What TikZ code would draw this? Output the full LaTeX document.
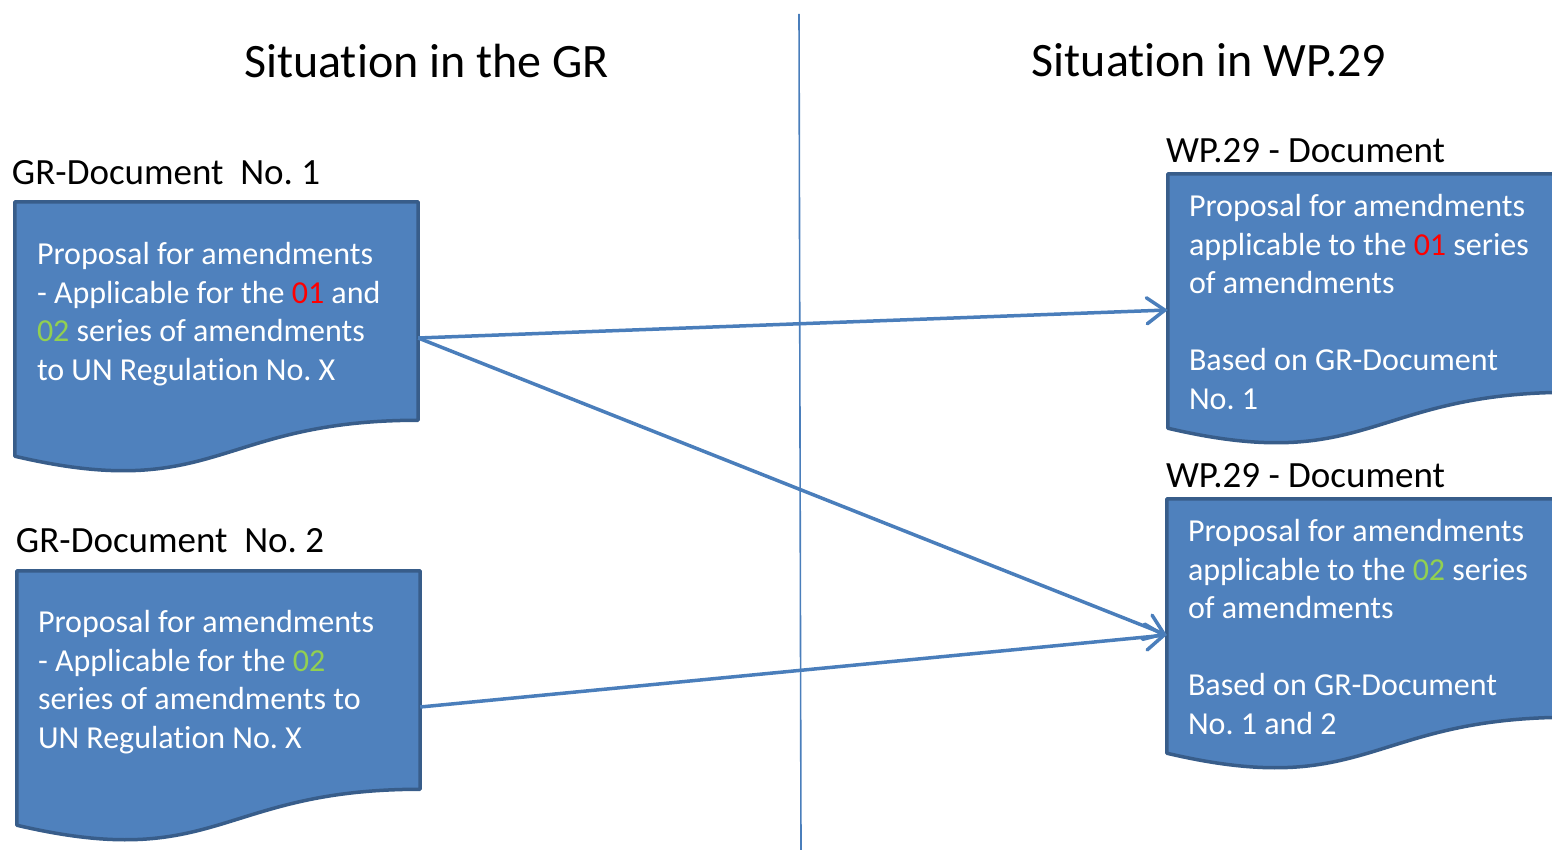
\documentclass[tikz,border=0pt]{standalone}
\usepackage{fontspec}
\setmainfont{Carlito}[Ligatures={NoCommon,NoContextual}, RawFeature={-clig;-dlig}]
\usepackage{tikz}
\usetikzlibrary{positioning,calc,arrows.meta}
\frenchspacing

\definecolor{docfill}{HTML}{4F81BD}
\definecolor{docedge}{HTML}{385D8A}
\definecolor{linkblue}{HTML}{4A7EBB}
\definecolor{seriesred}{HTML}{FF0000}
\definecolor{seriesgreen}{HTML}{92D050}

\tikzset{
  docbox/.style={rectangle, inner sep=0pt, minimum width=403pt, minimum height=272pt},
  docline/.style={draw=docedge, fill=docfill, line width=3.5pt, line join=round},
  bodytext/.style={font=\fontsize{32}{38.5}\selectfont, text=white, align=left, inner sep=0pt},
  hdr/.style={font=\fontsize{37}{44}\selectfont, inner sep=0pt},
  sidetitle/.style={font=\fontsize{48}{57}\selectfont, inner sep=0pt, anchor=base},
  link/.style={draw=linkblue, line width=3.5pt, -{Straight Barb[length=18pt,width=26pt,line cap=round]}}
}

\begin{document}
\begin{tikzpicture}[x=1pt, y=-1pt]
  \useasboundingbox (0,0) rectangle (1552,850);

  % divider
  \coordinate (divtop) at (799,14);
  \coordinate (divbot) at (801,850);
  \draw[linkblue, line width=1.6pt] (divtop) -- (divbot);

  \node (grtitle) [sidetitle] at (426.5,78) {Situat\kern0pt ion in the GR};
  \node (wptitle) [sidetitle] at (1209,77) {Situat\kern0pt ion in WP.29};

  % document boxes
  \node (gr1) [docbox] at (216.5,338) {};
  \node (gr2) [docbox] at (218.5,707) {};
  \node (wp1) [docbox] at (1369.5,310) {};
  \node (wp2) [docbox] at (1368.5,635) {};

  \foreach \n in {gr1,gr2,wp1,wp2} {
    \draw[docline] (\n.north west) -- (\n.north east)
      -- ($(\n.north east)!0.802!(\n.south east)$)
      .. controls ($(\n.north)!0.802!(\n.south)$) and ($(\n.north)!1.1075!(\n.south)$)
      .. ($(\n.north west)!0.934!(\n.south west)$) -- cycle;
  }

  \node (gr1lbl) [hdr, above right=17pt and -3pt of gr1.north west, anchor=base west] {GR-Document\ \ No. 1};
  \node (gr2lbl) [hdr, above right=18pt and -1pt of gr2.north west, anchor=base west] {GR-Document\ \ No. 2};
  \node (wp1lbl) [hdr, above right=11pt and -2pt of wp1.north west, anchor=base west] {WP.29 - Document};
  \node (wp2lbl) [hdr, above right=11pt and -1pt of wp2.north west, anchor=base west] {WP.29 - Document};

  \node (gr1txt) [bodytext, below right=40.5pt and 22pt of gr1.north west] {Proposal for amendments\\- Applicable for the \textcolor{seriesred}{01} and\\\textcolor{seriesgreen}{02} series of amendments\\to UN Regulat\kern0pt ion No. X};
  \node (gr2txt) [bodytext, below right=39.5pt and 21pt of gr2.north west] {Proposal for amendments\\- Applicable for the \textcolor{seriesgreen}{02}\\series of amendments to\\UN Regulat\kern0pt ion No. X};
  \node (wp1txt) [bodytext, below right=20.5pt and 21pt of wp1.north west] {Proposal for amendments\\applicable to the \textcolor{seriesred}{01} series\\of amendments\\[38.5pt]Based on GR-Document\\No. 1};
  \node (wp2txt) [bodytext, below right=20.5pt and 21pt of wp2.north west] {Proposal for amendments\\applicable to the \textcolor{seriesgreen}{02} series\\of amendments\\[38.5pt]Based on GR-Document\\No. 1 and 2};

  % links
  \draw[link] (gr1.east) -- (wp1.west);
  \draw[link] (gr1.east) -- (wp2.west);
  \draw[link] (gr2.east) -- (wp2.west);
\end{tikzpicture}
\end{document}
